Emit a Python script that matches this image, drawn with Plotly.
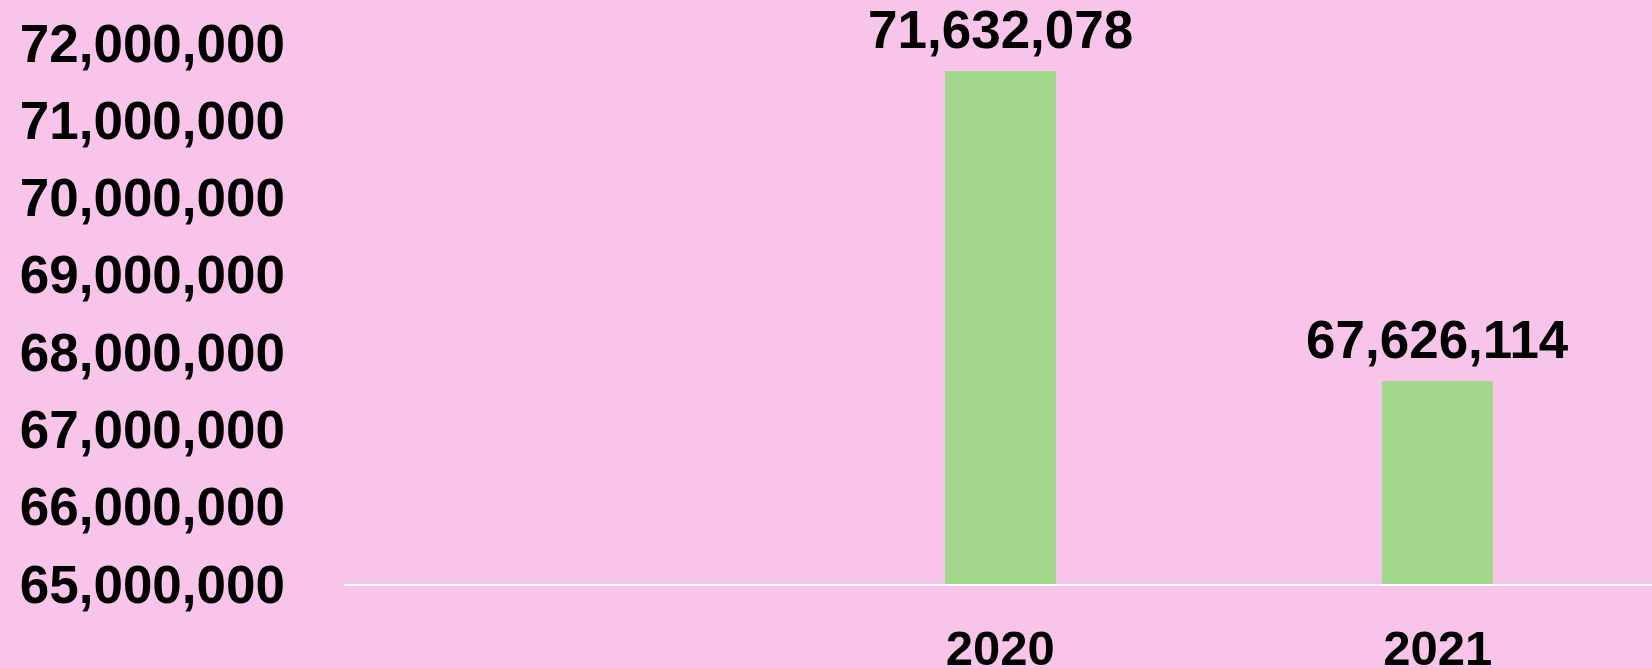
import plotly.graph_objects as go

years = ["2020", "2021"]
values = [71632078, 67626114]
y_ticks = [65000000, 66000000, 67000000, 68000000, 69000000, 70000000, 71000000, 72000000]
y_tick_labels = [f"{v:,}" for v in y_ticks]
value_labels = [f"{v:,}" for v in values]

BG = "rgb(248,196,234)"
GREEN = "rgb(163,215,140)"
FONT = "Liberation Sans, Arial, sans-serif"

fig = go.Figure()
fig.add_trace(go.Bar(x=years, y=values, marker_color=GREEN, width=0.253,
                     marker_line_width=0, hoverinfo="skip"))

for i, (v, lab) in enumerate(zip(values, value_labels)):
    fig.add_annotation(x=i, y=v, text=f"<b>{lab}</b>", showarrow=False,
                       yanchor="bottom", yshift=10,
                       font=dict(family=FONT, size=53, color="black"))

fig.update_layout(
    width=1652, height=668,
    paper_bgcolor=BG, plot_bgcolor=BG,
    margin=dict(l=344, r=0, t=43, b=84),
    showlegend=False,
    bargap=0,
)
fig.update_xaxes(
    type="category", categoryorder="array", categoryarray=years,
    range=[-1.5, 1.49], automargin=False,
    showline=True, linecolor="white", linewidth=2,
    showgrid=False, zeroline=False, ticks="",
    tickfont=dict(family=FONT, size=49, color="black", weight="bold"),
    ticklabelstandoff=20,
)
fig.update_yaxes(
    range=[65000000, 72000000], automargin=False,
    tickvals=y_ticks, ticktext=y_tick_labels,
    showgrid=False, zeroline=False, showline=False, ticks="",
    tickfont=dict(family=FONT, size=53, color="black", weight="bold"),
    ticklabelstandoff=58,
)

fig.write_html("out.html", config={"responsive": False, "displayModeBar": False},
               post_script="document.body.style.margin='0';document.body.style.overflow='hidden';")
